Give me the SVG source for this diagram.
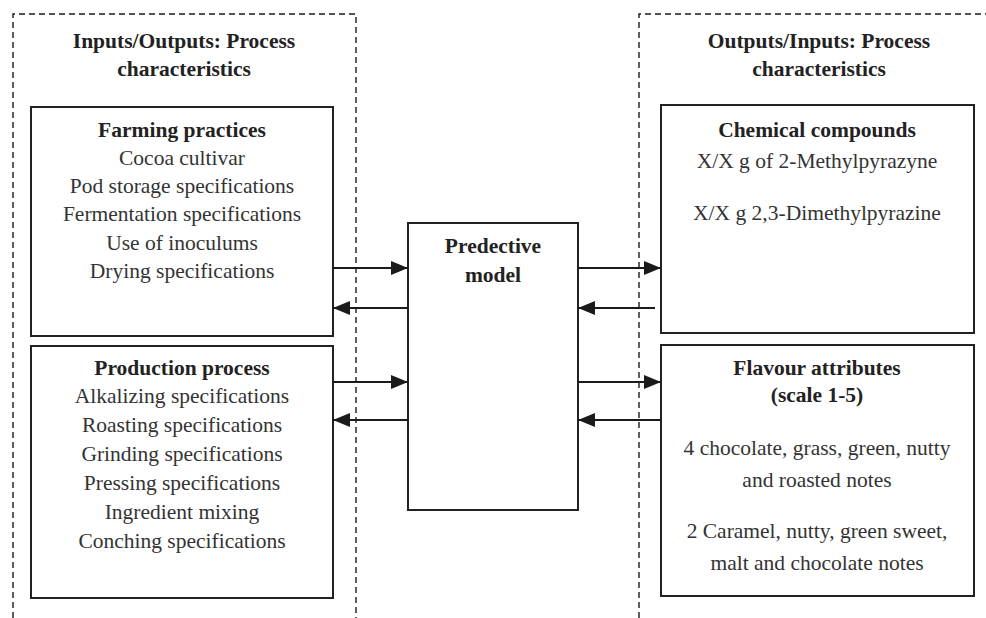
<svg xmlns="http://www.w3.org/2000/svg" width="986" height="618" viewBox="0 0 986 618">
<defs>
<marker id="ah" viewBox="0 0 17 14" refX="17" refY="7" markerWidth="17" markerHeight="14" markerUnits="userSpaceOnUse" orient="auto">
<path d="M0,0 L17,7 L0,14 Z" fill="#1a1a1a"/>
</marker>
<style>
.frame{fill:none;stroke:#1a1a1a;stroke-width:1.4;stroke-dasharray:6 4}
.box{fill:#fff;stroke:#222;stroke-width:2}
.t{font-family:"Liberation Serif",serif;font-size:21.5px;fill:#333;text-anchor:middle}
.b{font-family:"Liberation Serif",serif;font-size:21.5px;fill:#222;font-weight:bold;text-anchor:middle}
.c{fill:none;stroke:#1a1a1a;stroke-width:2}
</style>
</defs>
<rect width="986" height="618" fill="#fff"/>
<g id="frame-left">
<path class="frame" d="M13,618 V14 H356 V618"/>
<text class="b" x="184" y="48">Inputs/Outputs: Process</text>
<text class="b" x="184" y="76">characteristics</text>
</g>
<g id="frame-right">
<path class="frame" d="M639,618 V14 H986"/>
<text class="b" x="819" y="48">Outputs/Inputs: Process</text>
<text class="b" x="819" y="76">characteristics</text>
</g>
<g id="farming">
<rect class="box" x="31" y="107" width="302" height="229"/>
<text class="b" x="182" y="137">Farming practices</text>
<text class="t" x="182" y="165">Cocoa cultivar</text>
<text class="t" x="182" y="193">Pod storage specifications</text>
<text class="t" x="182" y="221">Fermentation specifications</text>
<text class="t" x="182" y="250">Use of inoculums</text>
<text class="t" x="182" y="278">Drying specifications</text>
</g>
<g id="production">
<rect class="box" x="31" y="346" width="302" height="252"/>
<text class="b" x="182" y="375">Production process</text>
<text class="t" x="182" y="403">Alkalizing specifications</text>
<text class="t" x="182" y="432">Roasting specifications</text>
<text class="t" x="182" y="461">Grinding specifications</text>
<text class="t" x="182" y="490">Pressing specifications</text>
<text class="t" x="182" y="519">Ingredient mixing</text>
<text class="t" x="182" y="548">Conching specifications</text>
</g>
<g id="model">
<rect class="box" x="408" y="223" width="170" height="287"/>
<text class="b" x="493" y="253">Predective</text>
<text class="b" x="493" y="282">model</text>
</g>
<g id="chemical">
<rect class="box" x="661" y="105" width="313" height="228"/>
<text class="b" x="817" y="137">Chemical compounds</text>
<text class="t" x="817" y="168">X/X g of 2-Methylpyrazyne</text>
<text class="t" x="817" y="220">X/X g 2,3-Dimethylpyrazine</text>
</g>
<g id="flavour">
<rect class="box" x="661" y="345" width="313" height="251"/>
<text class="b" x="817" y="375">Flavour attributes</text>
<text class="b" x="817" y="402">(scale 1-5)</text>
<text class="t" x="817" y="455">4 chocolate, grass, green, nutty</text>
<text class="t" x="817" y="487">and roasted notes</text>
<text class="t" x="817" y="538">2 Caramel, nutty, green sweet,</text>
<text class="t" x="817" y="570">malt and chocolate notes</text>
</g>
<g id="connectors">
<line class="c" x1="333" y1="268" x2="408" y2="268" marker-end="url(#ah)"/>
<line class="c" x1="408" y1="308" x2="333" y2="308" marker-end="url(#ah)"/>
<line class="c" x1="333" y1="382" x2="408" y2="382" marker-end="url(#ah)"/>
<line class="c" x1="408" y1="420" x2="333" y2="420" marker-end="url(#ah)"/>
<line class="c" x1="578" y1="268" x2="661" y2="268" marker-end="url(#ah)"/>
<line class="c" x1="655" y1="308" x2="578" y2="308" marker-end="url(#ah)"/>
<line class="c" x1="578" y1="382" x2="661" y2="382" marker-end="url(#ah)"/>
<line class="c" x1="661" y1="420" x2="578" y2="420" marker-end="url(#ah)"/>
</g>
</svg>
